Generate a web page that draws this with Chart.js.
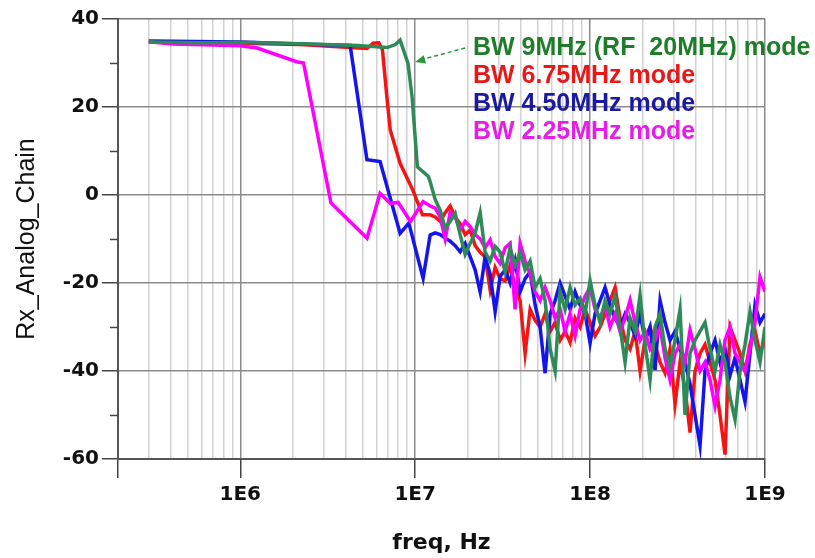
<!DOCTYPE html>
<html><head><meta charset="utf-8">
<script src="https://cdn.jsdelivr.net/npm/chart.js@4.4.1/dist/chart.umd.min.js"></script>
<style>html,body{margin:0;padding:0;background:#fff;}#wrap{width:815px;height:558px;}</style>
</head><body><div id="wrap"><canvas id="c" width="815" height="558"></canvas></div>
<script>
// ---- axis settings ----
const xMin = 2e5, xMax = 1e9;
const xTickMantissas = [1, 2, 3, 4, 5, 6, 7, 8, 9];
const xTickDecades = [1e5, 1e6, 1e7, 1e8];
const xLabelDecades = [1e6, 1e7, 1e8, 1e9];
const yMin = -60, yMax = 40, yStep = 20;
const yMinorTicks = [30, 10, -10, -30, -50];

// ---- legend texts ----
const seriesNames = ['BW 9MHz (RF  20MHz) mode', 'BW 6.75MHz mode', 'BW 4.50MHz mode', 'BW 2.25MHz mode'];

// ---- shared frequency grid of the noisy region (Hz) ----
const noiseFreq = [
  1.218e7, 1.301e7, 1.390e7, 1.484e7, 1.585e7, 1.693e7, 1.808e7, 1.931e7, 2.062e7, 2.202e7,
  2.352e7, 2.512e7, 2.683e7, 2.865e7, 3.060e7, 3.268e7, 3.490e7, 3.728e7, 3.981e7, 4.252e7,
  4.541e7, 4.850e7, 5.179e7, 5.532e7, 5.908e7, 6.310e7, 6.739e7, 7.197e7, 7.686e7, 8.209e7,
  8.767e7, 9.363e7, 1.000e8, 1.068e8, 1.141e8, 1.218e8, 1.301e8, 1.390e8, 1.484e8, 1.585e8,
  1.693e8, 1.808e8, 1.931e8, 2.062e8, 2.202e8, 2.352e8, 2.512e8, 2.683e8, 2.865e8, 3.060e8,
  3.268e8, 3.490e8, 3.728e8, 3.981e8, 4.252e8, 4.541e8, 4.850e8, 5.179e8, 5.532e8, 5.908e8,
  6.310e8, 6.739e8, 7.197e8, 7.686e8, 8.209e8, 8.767e8, 9.363e8, 1.000e9
];

// ---- BW 9MHz (green) ----
const greenHeadFreq = [3.0e5, 5.9e5, 1.0e6, 2.2e6, 4.7e6, 6.9e6, 7.7e6, 8.2e6, 9.1e6, 9.6e6, 1.03e7, 1.19e7];
const greenHeadVal  = [34.8, 34.6, 34.7, 34.4, 34.0, 33.5, 34.2, 35.2, 29.9, 22.3, 6.4, 4.2];
const greenNoise = [
  3.0, -1.0, -3.5, -7.5, -6, -4.2, -9, -13.5, -11, -8.7,
  -4, -13, -15, -11.7, -13, -17.5, -12, -16, -13, -17,
  -15, -21, -19, -24, -35, -40, -22, -26, -21, -25,
  -23.5, -27, -19.5, -25, -29, -24, -27, -23, -30, -38,
  -28, -31, -22.7, -34, -42, -30, -27, -35, -39, -33,
  -26, -50, -36, -33, -31, -29, -35, -40, -34, -38,
  -46, -51, -40, -34, -26.5, -33, -38, -30
];

// ---- BW 6.75MHz (red) ----
const redHeadFreq = [3.0e5, 1.0e6, 2.2e6, 4.25e6, 5.3e6, 5.75e6, 6.2e6, 6.5e6, 6.9e6, 7.2e6, 8.2e6, 9.7e6, 1.1e7];
const redHeadVal  = [34.8, 34.5, 34.2, 33.5, 33.3, 34.5, 34.6, 33.0, 22.0, 14.8, 7.2, 1.1, -4.5];
const redNoise = [
  -4.5, -5, -6, -4, -2.5, -5, -6.5, -9, -8, -11.5,
  -13, -14, -21.6, -16.5, -19, -19.5, -16, -21, -24, -36,
  -26, -28.5, -30, -27, -31, -29, -33, -31, -33.5, -28,
  -30, -26, -29, -32, -30, -27, -24, -21, -28, -33,
  -35, -31, -40, -33, -30, -34, -38, -40.5, -35, -47.5,
  -38, -44, -54, -40, -36, -34, -38, -42, -50, -59,
  -30, -33, -36, -40, -34, -31, -36, -33
];

// ---- BW 4.50MHz (blue) ----
const blueHeadFreq = [3.0e5, 1.0e6, 2.2e6, 4.25e6, 5.3e6, 6.3e6, 8.2e6, 9.2e6, 1.11e7];
const blueHeadVal  = [35.0, 34.8, 34.3, 34.0, 8.0, 7.6, -8.7, -6.4, -18.9];
const blueNoise = [
  -9.1, -8.6, -9, -9.8, -10.5, -11.5, -12.9, -11, -14, -17,
  -22, -14, -18, -26.5, -18.5, -17, -20, -15, -22, -19,
  -17.5, -25, -30, -40.5, -27, -24, -20, -23, -26, -22,
  -25, -27, -33.7, -27, -24, -21, -25, -28, -30, -27,
  -29, -32, -27, -33, -30, -39.8, -24, -29, -33, -31,
  -35, -38, -43, -50, -57, -40, -36, -33, -38, -35,
  -41, -37, -42, -47, -36, -25, -29, -27
];

// ---- BW 2.25MHz (magenta) ----
const magHeadFreq = [3.0e5, 4.1e5, 1.0e6, 1.25e6, 2.1e6, 2.3e6, 3.3e6, 5.3e6, 6.3e6, 7.2e6, 8.0e6, 9.4e6, 1.11e7];
const magHeadVal  = [34.8, 34.3, 33.9, 33.4, 30.3, 30.0, -1.8, -9.8, 0.4, -1.9, -1.7, -6.0, -1.5];
const magNoise = [
  -2.5, -3, -5, -10, -4, -5, -8, -6, -7.2, -9,
  -10, -12, -10.2, -14, -15.5, -12, -11, -26, -11, -15,
  -18, -22, -24, -21, -24, -28, -26, -31, -27, -32,
  -26, -23, -21, -26, -28, -25, -30, -27, -31, -28,
  -23.9, -29, -33, -31, -35, -33, -30, -37, -42, -36,
  -34, -38, -30.7, -35, -40, -38, -42, -48, -42, -33,
  -30, -36, -38, -40, -35, -29, -18.6, -22
];

const lineColors = ['rgb(46,139,87)', 'rgb(245,20,20)', 'rgb(20,20,235)', 'rgb(255,0,255)'];
const textColors = ['#1f7d2a', '#e81818', '#1a1aa0', '#e51ee5'];

function pts(hf, hv, nv) {
  const a = hf.map((f, i) => ({x: f, y: hv[i]}));
  const n = Math.min(noiseFreq.length, nv.length);
  for (let i = 0; i < n; i++) a.push({x: noiseFreq[i], y: nv[i]});
  return a;
}
function isDecade(v) { const l = Math.log10(v); return Math.abs(l - Math.round(l)) < 1e-9; }

const seriesData = [
  pts(greenHeadFreq, greenHeadVal, greenNoise),
  pts(redHeadFreq, redHeadVal, redNoise),
  pts(blueHeadFreq, blueHeadVal, blueNoise),
  pts(magHeadFreq, magHeadVal, magNoise)
];
// draw order: green on top, then magenta, blue, red
const drawOrder = [0, 3, 2, 1];

const overlay = {
  id: 'overlay',
  afterDraw(chart) {
    const {ctx, scales: {x, y}, chartArea} = chart;
    ctx.save();
    // minor y ticks
    ctx.strokeStyle = '#444'; ctx.lineWidth = 1.5;
    yMinorTicks.forEach(v => {
      const py = Math.round(y.getPixelForValue(v)) + 0.5;
      ctx.beginPath(); ctx.moveTo(chartArea.left - 8, py); ctx.lineTo(chartArea.left, py); ctx.stroke();
    });
    // legend texts anchored in data space
    ctx.font = 'bold 25px "Liberation Sans", Arial, sans-serif';
    ctx.textBaseline = 'middle'; ctx.textAlign = 'left';
    const tx = x.getPixelForValue(2.14e7);
    const rowVals = [33.4, 27.1, 20.7, 14.3];
    seriesNames.forEach((s, i) => {
      ctx.fillStyle = textColors[i];
      ctx.fillText(s, tx, y.getPixelForValue(rowVals[i]));
    });
    // dashed arrow
    const x0 = x.getPixelForValue(1.93e7), y0 = y.getPixelForValue(33.4);
    const x1 = x.getPixelForValue(1.0e7), y1 = y.getPixelForValue(30.2);
    ctx.strokeStyle = 'rgb(40,150,60)'; ctx.fillStyle = 'rgb(40,150,60)';
    ctx.lineWidth = 1.5; ctx.setLineDash([4, 3]);
    ctx.beginPath(); ctx.moveTo(x0, y0); ctx.lineTo(x1 + 8, y1 - 3); ctx.stroke();
    ctx.setLineDash([]);
    const ang = Math.atan2(y1 - y0, x1 - x0);
    ctx.beginPath();
    ctx.moveTo(x1, y1);
    ctx.lineTo(x1 - 11 * Math.cos(ang - 0.4), y1 - 11 * Math.sin(ang - 0.4));
    ctx.lineTo(x1 - 11 * Math.cos(ang + 0.4), y1 - 11 * Math.sin(ang + 0.4));
    ctx.closePath(); ctx.fill();
    ctx.restore();
  }
};

new Chart(document.getElementById('c'), {
  type: 'line',
  data: {
    datasets: drawOrder.map(i => ({
      label: seriesNames[i],
      data: seriesData[i],
      borderColor: lineColors[i],
      backgroundColor: lineColors[i],
      borderWidth: 3.5,
      pointRadius: 0,
      tension: 0,
      fill: false
    }))
  },
  options: {
    responsive: false,
    animation: false,
    layout: {padding: {top: 19, right: 50, left: 0, bottom: 0}},
    plugins: {legend: {display: false}, tooltip: {enabled: false}},
    scales: {
      x: {
        type: 'logarithmic', min: xMin, max: xMax,
        afterBuildTicks: (s) => {
          const t = [];
          xTickDecades.forEach(d => xTickMantissas.forEach(m => {
            const v = m * d; if (v >= xMin && v < xMax) t.push({value: v});
          }));
          t.push({value: xMax});
          s.ticks = t;
        },
        ticks: {
          autoSkip: false, maxRotation: 0, padding: 5, color: '#111',
          font: {family: 'DejaVu Sans', weight: 'bold', size: 20},
          callback: (v) => (isDecade(v) && xLabelDecades.includes(Math.pow(10, Math.round(Math.log10(v))))) ? '1E' + Math.round(Math.log10(v)) : ''
        },
        grid: {
          color: (c) => isDecade(c.tick.value) ? '#8c8c8c' : '#d2d2d2',
          lineWidth: 1.5,
          tickLength: 19,
          tickColor: (c) => (isDecade(c.tick.value) || c.tick.value === xMin) ? '#444' : 'rgba(0,0,0,0)'
        },
        border: {color: '#555', width: 2},
        title: {display: true, text: 'freq, Hz', color: '#111', font: {family: 'DejaVu Sans', weight: 'bold', size: 22}, padding: {top: 0, bottom: 2}},
        afterFit: (s) => { s.height = 99; }
      },
      y: {
        type: 'linear', min: yMin, max: yMax,
        ticks: {stepSize: yStep, padding: 3, color: '#111', font: {family: 'DejaVu Sans', weight: 'bold', size: 20}},
        grid: {
          color: (c) => c.tick.value === yMax ? '#777' : '#8c8c8c',
          lineWidth: 1.5, tickLength: 16, tickColor: '#444'
        },
        border: {color: '#555', width: 2},
        title: {display: true, text: 'Rx_Analog_Chain', color: '#111', font: {family: 'Liberation Sans', size: 25}, padding: {top: 12, bottom: 0}},
        afterFit: (s) => { s.width = 118; }
      }
    }
  },
  plugins: [overlay]
});
</script>
</body></html>
